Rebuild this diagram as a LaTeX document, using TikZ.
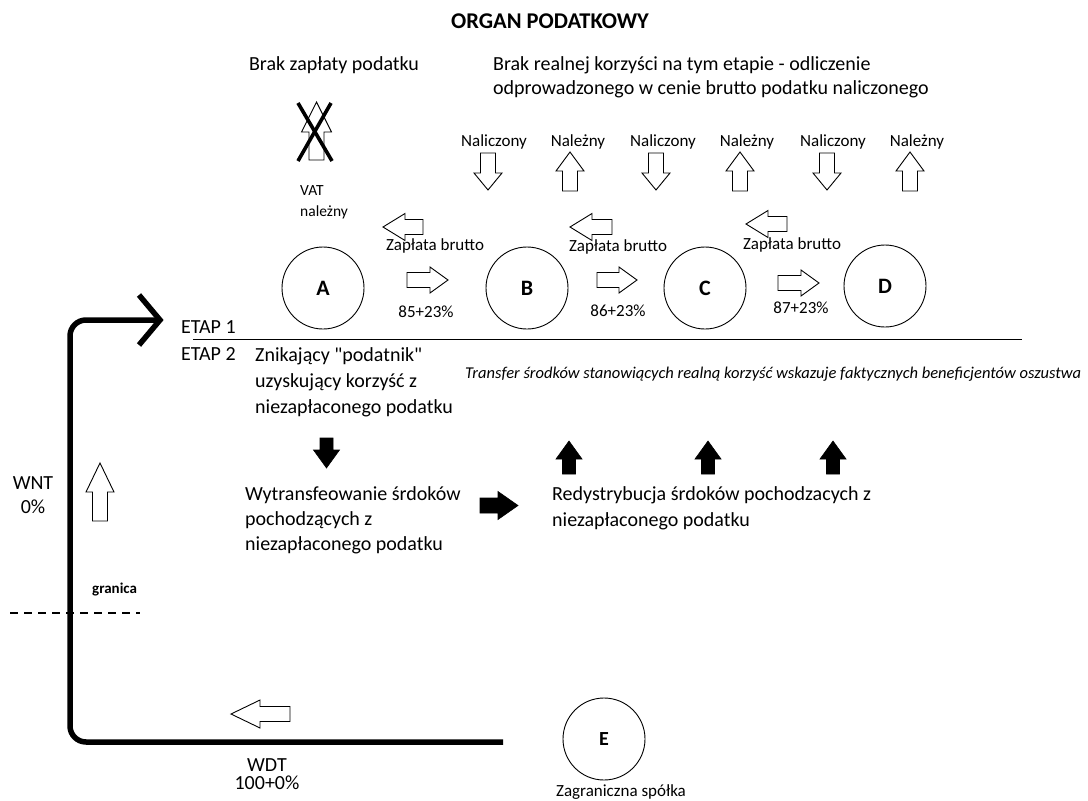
\documentclass[tikz,border=0pt]{standalone}
\usepackage{fontspec}
\setmainfont{Carlito}[Ligatures=TeXOff]

% multi-line text whose baseline is the baseline of its first line
\newcommand{\linesL}[1]{\begin{tabular}[t]{@{}l@{}}#1\end{tabular}}
\newcommand{\linesC}[1]{\begin{tabular}[t]{@{}c@{}}#1\end{tabular}}

% block arrow: [style] {tail point} {angle} {length} {head length} {shaft half-width} {head half-width}
\newcommand{\blkarrow}[7][openarr]{%
  \draw[#1,shift={#2},rotate=#3]
    (0,-#6) -- ({#4-#5},-#6) -- ({#4-#5},-#7) -- (#4,0)
    -- ({#4-#5},#7) -- ({#4-#5},#6) -- (0,#6) -- cycle;}

\begin{document}
\begin{tikzpicture}[x=1pt,y=-1pt,
  txt/.style={inner sep=0pt, font=\fontsize{20}{26}\selectfont},
  small/.style={inner sep=0pt, font=\fontsize{17}{21}\selectfont},
  heading/.style={inner sep=0pt, font=\bfseries\fontsize{22.5}{27}\selectfont},
  party/.style={circle, draw, line width=0.9pt, minimum size=82pt, inner sep=0pt,
    font=\bfseries\fontsize{22}{26}\selectfont},
  openarr/.style={draw=black, fill=white, line width=0.9pt, line join=miter},
  solidarr/.style={draw=black, fill=black, line width=0.6pt, line join=miter},
  flow/.style={line width=5.5pt, rounded corners=16pt},
  cross/.style={line width=3.6pt},
]
\useasboundingbox (0,0) rectangle (1088,801);

% --- headings -------------------------------------------------------------
\node[heading, anchor=base] (title) at (550,28) {ORGAN PODATKOWY};
\node[txt, anchor=base] (nopay) at (334,70) {Brak zapłaty podatku};
\node[txt, anchor=base west, font=\fontsize{20}{24}\selectfont] (noreal) at (493,70)
  {\linesL{Brak realnej korzyści na tym etapie - odliczenie\\odprowadzonego w cenie brutto podatku naliczonego}};

% --- crossed-out output VAT ------------------------------------------------
\blkarrow{(316.5,160)}{90}{58}{30}{7.5}{15}
\draw[cross] (298,103) -- (332,161);
\draw[cross] (331,103) -- (298,161);
\node[inner sep=0pt, anchor=base west, font=\fontsize{15.5}{21}\selectfont] (vat) at (300,195)
  {\linesL{VAT\\należny}};

% --- input / output VAT at each stage -----------------------------------
\node[small, anchor=base] (in1)  at (494,146) {Naliczony};
\node[small, anchor=base] (out1) at (578,146) {Należny};
\node[small, anchor=base] (in2)  at (663,146) {Naliczony};
\node[small, anchor=base] (out2) at (747,146) {Należny};
\node[small, anchor=base] (in3)  at (833,146) {Naliczony};
\node[small, anchor=base] (out3) at (917,146) {Należny};
\foreach \x in {488,656,827} {\blkarrow{(\x,153)}{-90}{37}{17}{7.5}{14}}
\foreach \x in {570,740,910} {\blkarrow{(\x,191)}{90}{39}{19}{7.5}{14}}

% --- chain of taxpayers ---------------------------------------------------
\node[party] (A) at (323,288) {A};
\node[party] (B) at (527,288) {B};
\node[party] (C) at (705,288) {C};
\node[party] (D) at (885,286) {D};

\blkarrow{(423,227)}{180}{40}{22}{7.5}{13.5}
\blkarrow{(612,227)}{180}{42}{22}{7.5}{13.5}
\blkarrow{(787,224)}{180}{41}{22}{7.5}{13.5}
\node[small, anchor=base] (pay1) at (435,250) {Zapłata brutto};
\node[small, anchor=base] (pay2) at (618,251) {Zapłata brutto};
\node[small, anchor=base] (pay3) at (792,249) {Zapłata brutto};

\blkarrow{(407,280)}{0}{41}{18}{7.5}{13}
\blkarrow{(597,280)}{0}{40}{18}{7.5}{13}
\blkarrow{(778,283)}{0}{41}{18}{7.5}{13}
\node[small, anchor=base] (sale1) at (426,317) {85+23\%};
\node[small, anchor=base] (sale2) at (618,316) {86+23\%};
\node[small, anchor=base] (sale3) at (801,313) {87+23\%};

% --- stage divider ----------------------------------------------------------
\coordinate (divL) at (193,339);
\coordinate (divR) at (1022,339);
\draw[line width=1pt] (divL) -- (divR);
\node[txt, anchor=base west] (etap1) at (181,333) {ETAP 1};
\node[txt, anchor=base west] (etap2) at (181,360) {ETAP 2};

% --- stage 2 ----------------------------------------------------------------
\node[txt, anchor=base west] (missing) at (255,361)
  {\linesL{Znikający "podatnik"\\uzyskujący korzyść z\\niezapłaconego podatku}};
\blkarrow[solidarr]{(326.5,438)}{-90}{30}{18}{6.5}{13}
\node[txt, anchor=base west, font=\fontsize{20}{25}\selectfont] (moved) at (245,500)
  {\linesL{Wytransfeowanie śrdoków\\pochodzących z\\niezapłaconego podatku}};
\blkarrow[solidarr]{(480,505.5)}{0}{38}{20}{7.5}{14}
\node[txt, anchor=base west] (redist) at (552,500)
  {\linesL{Redystrybucja śrdoków pochodzacych z\\niezapłaconego podatku}};
\node[inner sep=0pt, anchor=base west, font=\itshape\fontsize{16.5}{20}\selectfont] (benef) at (465,378)
  {Transfer środków stanowiących realną korzyść wskazuje faktycznych beneficjentów oszustwa};
\foreach \x in {569,708,833} {\blkarrow[solidarr]{(\x,474)}{90}{33}{18}{6.5}{13}}

% --- cross-border loop ----------------------------------------------------
\node[party, font=\bfseries\fontsize{20}{24}\selectfont] (E) at (604,739) {E};
\node[inner sep=0pt, anchor=base, font=\fontsize{17}{21}\selectfont] (foreign) at (621,796)
  {Zagraniczna spółka};

\coordinate (wdtstart) at (503,742);
\coordinate (etapin) at (160,320);
\draw[flow] (wdtstart) -- (70,742) -- (70,320) -- (etapin);
\draw[line width=5.5pt, line join=miter] ([shift={(-21,-25)}]etapin) -- (etapin) -- ([shift={(-21,25)}]etapin);

\blkarrow{(290,714)}{180}{59}{29}{7.5}{14}
\node[txt, anchor=base, font=\fontsize{20}{17}\selectfont] (wdt) at (267,771)
  {\linesC{WDT\\100+0\%}};

\blkarrow{(100,521)}{90}{58}{29}{7.5}{14}
\node[txt, anchor=base, font=\fontsize{20}{24}\selectfont] (wnt) at (33,489)
  {\linesC{WNT\\0\%}};

\coordinate (borderL) at (10,613);
\coordinate (borderR) at (140,613);
\draw[line width=1.6pt, dash pattern=on 8pt off 6pt] (borderL) -- (borderR);
\node[inner sep=0pt, anchor=base west, font=\bfseries\fontsize{15}{18}\selectfont] (border) at (92,593) {granica};

\end{tikzpicture}
\end{document}
